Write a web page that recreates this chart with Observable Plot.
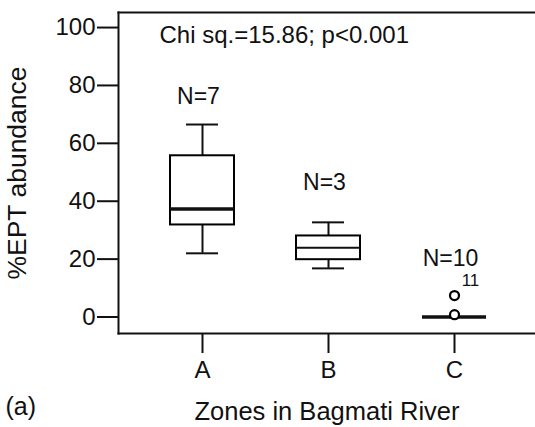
<!DOCTYPE html>
<html>
<head>
<meta charset="utf-8">
<script src="https://cdn.jsdelivr.net/npm/d3@7"></script>
<script src="https://cdn.jsdelivr.net/npm/@observablehq/plot@0.6"></script>
<style>
  html, body { margin: 0; padding: 0; background: white; }
</style>
</head>
<body>
<div id="chart"></div>
<script>
const zones = ["A", "B", "C"];
const mins = [22.0, 16.8, 0];
const q1s = [31.8, 19.8, 0];
const medians = [37.3, 23.9, 0];
const q3s = [55.7, 28.0, 0];
const maxs = [66.5, 32.7, 0];
const nLabels = ["N=7", "N=3", "N=10"];
const nLabelY = [76, 46.3, 20.3];
const outlierZone = ["C", "C"];
const outlierValue = [7.4, 0.8];
const outlierCase = ["11", ""];
const yTicks = [0, 20, 40, 60, 80, 100];
const statText = "Chi sq.=15.86; p<0.001";
const panelLabel = "(a)";

const boxes = zones.map((z, i) => ({zone: z, min: mins[i], q1: q1s[i], median: medians[i], q3: q3s[i], max: maxs[i]}));
const outliers = outlierZone.map((z, i) => ({zone: z, value: outlierValue[i], label: outlierCase[i]}));

const font = "'Liberation Sans', Arial, sans-serif";
const chart = Plot.plot({
  width: 535,
  height: 427,
  marginLeft: 118,
  marginRight: 0,
  marginTop: 12,
  marginBottom: 94,
  style: {fontFamily: font, fontSize: "24px", color: "#111", background: "white"},
  x: {type: "band", domain: zones, range: [118, 538], paddingInner: 0.493, paddingOuter: 0.41},
  y: {domain: [-5.7, 105.2]},
  marks: [
    Plot.frame({anchor: "left", strokeWidth: 2}),
    Plot.frame({anchor: "top", strokeWidth: 2}),
    Plot.frame({anchor: "bottom", strokeWidth: 2}),
    Plot.axisY({ticks: yTicks, tickSize: 21, tickPadding: 2, strokeWidth: 2, tickFormat: d => String(d), label: null, fontSize: 24}),
    Plot.axisY({ticks: [], tickSize: 0, label: "%EPT abundance", labelArrow: "none", labelAnchor: "center", labelOffset: 111, fontSize: 26.5}),
    Plot.axisX({tickSize: 20, tickPadding: 7, strokeWidth: 2, label: null, fontSize: 24}),
    Plot.axisX({ticks: [], tickSize: 0, label: "Zones in Bagmati River", labelArrow: "none", labelAnchor: "center", labelOffset: 86, fontSize: 25.5}),
    // whiskers
    Plot.ruleX(boxes, {x: "zone", y1: "q3", y2: "max", strokeWidth: 2}),
    Plot.ruleX(boxes, {x: "zone", y1: "min", y2: "q1", strokeWidth: 2}),
    Plot.tickY(boxes.filter(d => d.max > d.q3), {x: "zone", y: "max", strokeWidth: 2, insetLeft: 16, insetRight: 16}),
    Plot.tickY(boxes.filter(d => d.min < d.q1), {x: "zone", y: "min", strokeWidth: 2, insetLeft: 16, insetRight: 16}),
    // boxes
    Plot.barY(boxes.filter(d => d.q3 > d.q1), {x: "zone", y1: "q1", y2: "q3", fill: "white", stroke: "black", strokeWidth: 2}),
    Plot.tickY(boxes.filter(d => d.zone !== "B"), {x: "zone", y: "median", strokeWidth: 3.5}),
    Plot.tickY(boxes.filter(d => d.zone === "B"), {x: "zone", y: "median", strokeWidth: 2}),
    // outliers
    Plot.dot(outliers, {x: "zone", y: "value", r: 4.5, stroke: "black", strokeWidth: 2.2, fill: "white"}),
    Plot.text(outliers.filter(d => d.label), {x: "zone", y: "value", text: "label", dx: 16, dy: -15, fontSize: 17}),
    // N labels
    Plot.text(nLabels, {x: zones, y: nLabelY, text: d => d, dx: -4, fontSize: 23}),
    Plot.text([statText], {frameAnchor: "top-left", dx: 41, dy: 13, textAnchor: "start", lineAnchor: "top", fontSize: 24}),
    Plot.text([panelLabel], {frameAnchor: "bottom-left", dx: -113, dy: 73, textAnchor: "start", lineAnchor: "middle", fontSize: 25})
  ]
});
document.getElementById("chart").appendChild(chart);
</script>
</body>
</html>
